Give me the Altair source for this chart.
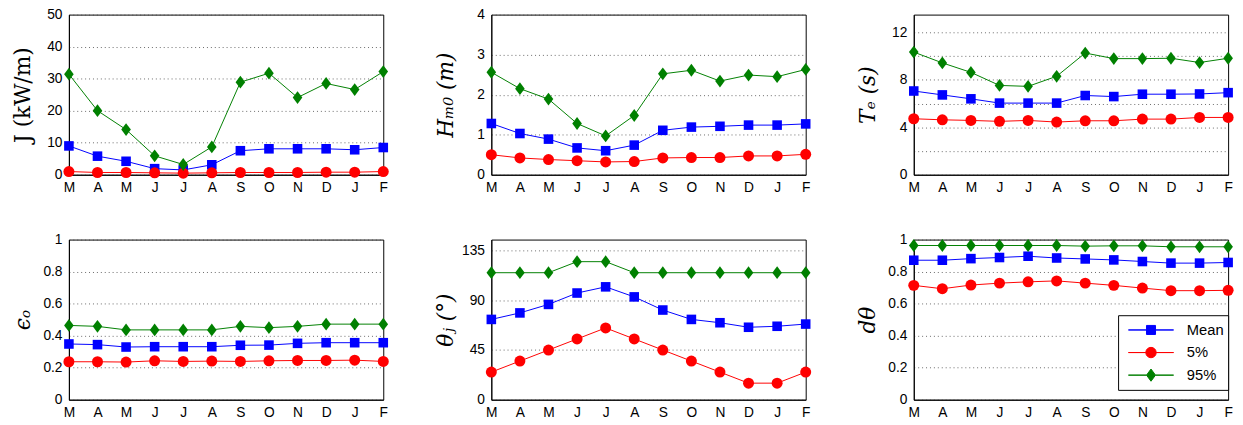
import altair as alt
import pandas as pd

months = ["Mar", "Apr", "May", "Jun", "Jul", "Aug", "Sep", "Oct", "Nov", "Dec", "Jan", "Feb"]
series_names = ["Mean", "5%", "95%"]
series_colors = ["#0000FF", "#FF0000", "#008000"]

# J (kW/m)
J_mean = [9.0, 5.8, 4.2, 1.9, 1.5, 3.1, 7.5, 8.1, 8.1, 8.1, 7.8, 8.5]
J_p5 = [1.0, 0.7, 0.7, 0.6, 0.5, 0.6, 0.7, 0.7, 0.7, 0.8, 0.8, 1.0]
J_p95 = [31.4, 20.0, 14.1, 5.9, 3.2, 8.7, 28.9, 31.7, 24.1, 28.5, 26.6, 32.2]

# Hm0 (m)
H_mean = [1.28, 1.03, 0.89, 0.67, 0.60, 0.74, 1.11, 1.19, 1.21, 1.24, 1.24, 1.27]
H_p5 = [0.50, 0.42, 0.38, 0.35, 0.32, 0.33, 0.42, 0.43, 0.43, 0.47, 0.47, 0.51]
H_p95 = [2.56, 2.15, 1.89, 1.28, 0.97, 1.48, 2.52, 2.61, 2.34, 2.49, 2.45, 2.63]

# Te (s)
T_mean = [7.06, 6.73, 6.40, 6.04, 6.04, 6.04, 6.68, 6.59, 6.79, 6.79, 6.81, 6.92]
T_p5 = [4.72, 4.63, 4.58, 4.50, 4.58, 4.44, 4.55, 4.55, 4.69, 4.69, 4.83, 4.83]
T_p95 = [10.34, 9.43, 8.63, 7.53, 7.45, 8.30, 10.26, 9.79, 9.79, 9.82, 9.46, 9.82]

# epsilon_o
E_mean = [0.348, 0.344, 0.329, 0.331, 0.331, 0.331, 0.340, 0.341, 0.352, 0.356, 0.356, 0.356]
E_p5 = [0.237, 0.237, 0.235, 0.243, 0.239, 0.241, 0.239, 0.243, 0.245, 0.245, 0.247, 0.239]
E_p95 = [0.464, 0.458, 0.436, 0.436, 0.436, 0.436, 0.458, 0.450, 0.458, 0.472, 0.472, 0.472]

# theta_j (deg)
TH_mean = [72.7, 78.6, 86.3, 96.6, 102.2, 93.1, 81.2, 72.7, 69.7, 65.6, 66.5, 68.5]
TH_p5 = [25, 35, 45, 55, 65, 55, 45, 35, 25, 15, 15, 25]
TH_p95 = [115, 115, 115, 125, 125, 115, 115, 115, 115, 115, 115, 115]

# d_theta
D_mean = [0.871, 0.871, 0.881, 0.888, 0.896, 0.885, 0.879, 0.873, 0.863, 0.853, 0.853, 0.857]
D_p5 = [0.714, 0.693, 0.716, 0.728, 0.736, 0.742, 0.728, 0.714, 0.697, 0.681, 0.681, 0.683]
D_p95 = [0.963, 0.963, 0.963, 0.963, 0.963, 0.963, 0.959, 0.961, 0.961, 0.955, 0.955, 0.955]

marker_shapes = ["square", "circle", "M0,-1L0.75,0L0,1L-0.75,0Z"]
marker_sizes = [95, 125, 170]
legend_shapes = [
    "M-1,0H-0.2V-0.2H0.2V0H1H0.2V0.2H-0.2V0Z",
    "M-1,0H-0.23A0.23,0.23 0 0,1 0.23,0H1H0.23A0.23,0.23 0 0,1 -0.23,0Z",
    "M-1,0H-0.2L0,-0.27L0.2,0H1H0.2L0,0.27L-0.2,0Z",
]

W, H = 320, 163


def table(mean, p5, p95):
    rows = []
    for s, vals in zip(series_names, [mean, p5, p95]):
        for i, v in enumerate(vals):
            rows.append({"month": months[i], "mi": i, "series": s, "value": v})
    return pd.DataFrame(rows)


def panel(df, title, domain, ticks, style="italic", every=None, legend=False):
    base = alt.Chart(df)
    x = alt.X("month:N", sort=months,
              scale=alt.Scale(domain=months, padding=0),
              axis=alt.Axis(title=None, labelAngle=0,
                            labelExpr="substring(datum.label, 0, 1)"))
    if every:
        lab = f"datum.value % {every} == 0 ? toString(datum.value) : ''"
    else:
        lab = "toString(datum.value)"
    y = alt.Y("value:Q", scale=alt.Scale(domain=domain, nice=False, zero=False),
              axis=alt.Axis(values=ticks, title=title, titleFontStyle=style,
                            labelExpr=lab))
    leg = None
    if legend:
        leg = alt.Legend(title=None, orient="none", legendX=208, legendY=77,
                         symbolSize=2116, clipHeight=22, symbolOffset=6,
                         labelOffset=13, padding=4, strokeColor="black",
                         fillColor="white", labelFont="Liberation Sans",
                         labelFontSize=15, labelColor="black",
                         symbolStrokeWidth=1, symbolOpacity=1, rowPadding=1,
                         cornerRadius=0)
    color = alt.Color("series:N",
                      scale=alt.Scale(domain=series_names, range=series_colors),
                      legend=leg)
    layers = [base.mark_line(strokeWidth=1).encode(x=x, y=y, color=color,
                                                   order=alt.Order("mi:Q"))]
    for s, shp, sz in zip(series_names, marker_shapes, marker_sizes):
        layers.append(
            base.transform_filter(alt.datum.series == s)
            .mark_point(shape=shp, filled=True, size=sz, opacity=1)
            .encode(x=x, y=y, color=color)
        )
    if legend:
        layers.append(
            base.mark_point(filled=True, opacity=0).encode(
                x=x, y=y,
                color=color,
                stroke=alt.Stroke("series:N",
                                  scale=alt.Scale(domain=series_names, range=series_colors),
                                  legend=leg),
                shape=alt.Shape("series:N",
                                scale=alt.Scale(domain=series_names, range=legend_shapes),
                                legend=leg),
            )
        )
    return alt.layer(*layers).properties(width=W, height=H)


p1 = panel(table(J_mean, J_p5, J_p95), "J (kW/m)", [0, 50], [0, 10, 20, 30, 40, 50], style="normal")
p2 = panel(table(H_mean, H_p5, H_p95), "Hₘ₀ (m)", [0, 4], [0, 1, 2, 3, 4])
p3 = panel(table(T_mean, T_p5, T_p95), "Tₑ (s)", [0, 13.5], [0, 2, 4, 6, 8, 10, 12], every=4)
p4 = panel(table(E_mean, E_p5, E_p95), "ϵₒ", [0, 1], [0, 0.2, 0.4, 0.6, 0.8, 1])
p5 = panel(table(TH_mean, TH_p5, TH_p95), "θⱼ (°)", [0, 145], [0, 45, 90, 135])
p6 = panel(table(D_mean, D_p5, D_p95), "dθ", [0, 1], [0, 0.2, 0.4, 0.6, 0.8, 1], legend=True)

res = dict(color="independent", stroke="independent", shape="independent")
row1 = alt.hconcat(p1, p2, p3, spacing=44).resolve_scale(**res)
row2 = alt.hconcat(p4, p5, p6, spacing=44).resolve_scale(**res)

chart = (
    alt.vconcat(row1, row2, spacing=37)
    .resolve_scale(**res)
    .properties(padding={"left": 3, "top": -5, "right": 0, "bottom": 0})
    .configure_view(stroke="black", strokeWidth=1)
    .configure_axis(
        labelFont="Liberation Sans", labelFontSize=14, labelColor="black",
        domainColor="black", domainWidth=1, ticks=False,
        gridColor="#444444", gridDash=[1, 3], gridWidth=0.8,
        titleFont="DejaVu Serif", titleFontSize=22, titleColor="black",
        titleFontWeight="normal",
    )
    .configure_axisX(grid=False, labelPadding=6)
    .configure_axisY(labelPadding=7, minExtent=30, maxExtent=30, titlePadding=5)
)

chart.save("out.html", embed_options={"renderer": "svg", "actions": False})
